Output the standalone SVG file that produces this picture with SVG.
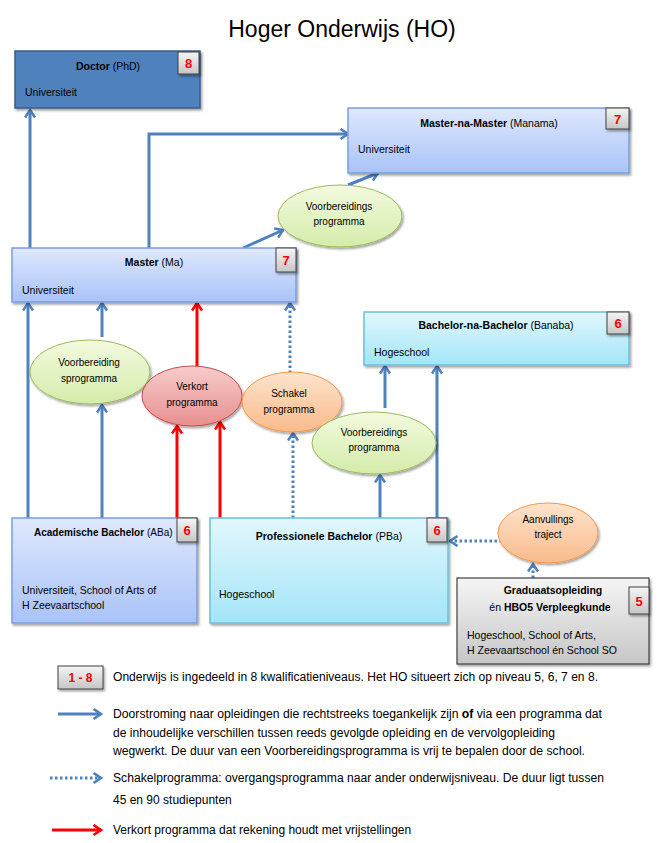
<svg xmlns="http://www.w3.org/2000/svg" width="670" height="843" viewBox="0 0 670 843">
<style>
text{font-family:"Liberation Sans",Arial,sans-serif;fill:#000}
.t{font-size:10.5px}
.b{font-weight:bold}
.e{font-size:10px;text-anchor:middle}
.c{text-anchor:middle}
.lg{font-size:12px}
.badge text{fill:#ff0000;font-weight:bold;font-size:13px;text-anchor:middle}
.blue{stroke:#4f81bd;stroke-width:3;fill:none;marker-end:url(#ab)}
.red{stroke:#ff0000;stroke-width:3;fill:none;marker-end:url(#ar)}
.dot{stroke:#4f81bd;stroke-width:3;fill:none;stroke-dasharray:2.5 2.5;marker-end:url(#ab)}
</style>
<defs>
<filter id="sh" x="-10%" y="-10%" width="130%" height="140%"><feDropShadow dx="1.5" dy="2" stdDeviation="1.2" flood-color="#000" flood-opacity="0.35"/></filter>
<linearGradient id="gBlue" x1="0" y1="0" x2="0" y2="1"><stop offset="0" stop-color="#dfe8fd"/><stop offset="1" stop-color="#a9c3f8"/></linearGradient>
<linearGradient id="gCyan" x1="0" y1="0" x2="0" y2="1"><stop offset="0" stop-color="#e2f7fd"/><stop offset="1" stop-color="#a3e5f8"/></linearGradient>
<linearGradient id="gGrey" x1="0" y1="0" x2="0" y2="1"><stop offset="0" stop-color="#f5f5f5"/><stop offset="1" stop-color="#c6c6c6"/></linearGradient>
<linearGradient id="gGreen" x1="0" y1="0" x2="0" y2="1"><stop offset="0" stop-color="#f3fadf"/><stop offset="1" stop-color="#d4ecaa"/></linearGradient>
<linearGradient id="gRed" x1="0" y1="0" x2="0" y2="1"><stop offset="0" stop-color="#f7cccc"/><stop offset="1" stop-color="#e88f8f"/></linearGradient>
<linearGradient id="gOrange" x1="0" y1="0" x2="0" y2="1"><stop offset="0" stop-color="#fde3cc"/><stop offset="1" stop-color="#f9bb8c"/></linearGradient>
<marker id="ab" markerUnits="userSpaceOnUse" markerWidth="14" markerHeight="14" refX="9" refY="6" orient="auto"><path d="M1.5,1 L9,6 L1.5,11" fill="none" stroke="#4f81bd" stroke-width="2.6"/></marker>
<marker id="ar" markerUnits="userSpaceOnUse" markerWidth="14" markerHeight="14" refX="9" refY="6" orient="auto"><path d="M1.5,1 L9,6 L1.5,11" fill="none" stroke="#ff0000" stroke-width="2.6"/></marker>
</defs>
<rect width="670" height="843" fill="#fff"/>
<text x="342" y="37" class="c" style="font-size:23px">Hoger Onderwijs (HO)</text>

<g id="connectors">
<path class="blue" d="M30,248 V110"/>
<path class="blue" d="M149,248 V134 H348"/>
<path class="blue" d="M243,248 L283,230"/>
<path class="blue" d="M348,185 L378,173"/>
<path class="blue" d="M28,518 V303"/>
<path class="blue" d="M102,518 V405"/>
<path class="blue" d="M102,337 V303"/>
<path class="red" d="M177,518 V426"/>
<path class="red" d="M220,518 V422"/>
<path class="red" d="M197,366 V303"/>
<path class="dot" d="M293,518 V433"/>
<path class="dot" d="M290,373 V303"/>
<path class="blue" d="M380,518 V475"/>
<path class="blue" d="M385,408 V366"/>
<path class="blue" d="M437,518 V366"/>
<path class="dot" d="M502,541 H450"/>
<path class="dot" d="M533,578 V564"/>
</g>

<g id="doctor">
<rect x="15" y="51" width="185" height="57" fill="#4f81bd" stroke="#385d8a" stroke-width="1.5" filter="url(#sh)"/>
<text x="108" y="70" class="t c"><tspan class="b">Doctor</tspan> (PhD)</text>
<text x="25" y="96" class="t">Universiteit</text>
<g class="badge"><rect x="178" y="52" width="21" height="22" fill="url(#gGrey)" stroke="#404040" filter="url(#sh)"/><text x="188.5" y="68">8</text></g>
</g>

<g id="manama">
<rect x="348" y="108" width="281" height="65" fill="url(#gBlue)" stroke="#7b9fdb" stroke-width="1.5" filter="url(#sh)"/>
<text x="489" y="127" class="t c"><tspan class="b">Master-na-Master</tspan> (Manama)</text>
<text x="358" y="153" class="t">Universiteit</text>
<g class="badge"><rect x="606" y="108" width="23" height="21" fill="url(#gGrey)" stroke="#404040" filter="url(#sh)"/><text x="617.5" y="124">7</text></g>
</g>

<g id="master">
<rect x="12" y="248" width="284" height="54" fill="url(#gBlue)" stroke="#7b9fdb" stroke-width="1.5" filter="url(#sh)"/>
<text x="154" y="266" class="t c"><tspan class="b">Master</tspan> (Ma)</text>
<text x="22" y="294" class="t">Universiteit</text>
<g class="badge"><rect x="276" y="248" width="20" height="24" fill="url(#gGrey)" stroke="#404040" filter="url(#sh)"/><text x="286" y="265">7</text></g>
</g>

<g id="voorb-ma">
<ellipse cx="340" cy="216" rx="62" ry="31" fill="url(#gGreen)" stroke="#9bbb59" filter="url(#sh)"/>
<text x="339" y="210" class="e">Voorbereidings</text>
<text x="339" y="225" class="e">programma</text>
</g>

<g id="voorb-aba">
<ellipse cx="90" cy="372" rx="60" ry="32" fill="url(#gGreen)" stroke="#9bbb59" filter="url(#sh)"/>
<text x="89" y="366" class="e">Voorbereiding</text>
<text x="89" y="382" class="e">sprogramma</text>
</g>

<g id="verkort">
<ellipse cx="192" cy="396" rx="50" ry="30" fill="url(#gRed)" stroke="#c0504d" filter="url(#sh)"/>
<text x="192" y="390" class="e">Verkort</text>
<text x="192" y="406" class="e">programma</text>
</g>

<g id="schakel">
<ellipse cx="292" cy="402" rx="50" ry="30" fill="url(#gOrange)" stroke="#f79646" filter="url(#sh)"/>
<text x="289" y="397" class="e">Schakel</text>
<text x="289" y="413" class="e">programma</text>
</g>

<g id="banaba">
<rect x="364" y="312" width="265" height="53" fill="url(#gCyan)" stroke="#6cc0d8" stroke-width="1.5" filter="url(#sh)"/>
<text x="496" y="329" class="t c"><tspan class="b">Bachelor-na-Bachelor</tspan> (Banaba)</text>
<text x="374" y="356" class="t">Hogeschool</text>
<g class="badge"><rect x="607" y="312" width="22" height="22" fill="url(#gGrey)" stroke="#404040" filter="url(#sh)"/><text x="618" y="328">6</text></g>
</g>

<g id="voorb-pba">
<ellipse cx="374" cy="443" rx="62" ry="31" fill="url(#gGreen)" stroke="#9bbb59" filter="url(#sh)"/>
<text x="374" y="436" class="e">Voorbereidings</text>
<text x="374" y="451" class="e">programma</text>
</g>

<g id="aba">
<rect x="12" y="518" width="185" height="105" fill="url(#gBlue)" stroke="#7b9fdb" stroke-width="1.5" filter="url(#sh)"/>
<text x="34" y="536" class="b" style="font-size:10px">Academische Bachelor</text>
<text x="147" y="536" style="font-size:10px">(ABa)</text>
<text x="22" y="594" class="t">Universiteit, School of Arts of</text>
<text x="22" y="609" class="t">H Zeevaartschool</text>
<g class="badge"><rect x="177" y="518" width="20" height="24" fill="url(#gGrey)" stroke="#404040" filter="url(#sh)"/><text x="187" y="535">6</text></g>
</g>

<g id="pba">
<rect x="210" y="518" width="238" height="105" fill="url(#gCyan)" stroke="#6cc0d8" stroke-width="1.5" filter="url(#sh)"/>
<text x="329" y="540" class="t c"><tspan class="b">Professionele Bachelor</tspan> (PBa)</text>
<text x="219" y="598" class="t">Hogeschool</text>
<g class="badge"><rect x="427" y="518" width="20" height="24" fill="url(#gGrey)" stroke="#404040" filter="url(#sh)"/><text x="437" y="535">6</text></g>
</g>

<g id="aanvullings">
<ellipse cx="548" cy="533" rx="50" ry="30" fill="url(#gOrange)" stroke="#f79646" filter="url(#sh)"/>
<text x="548" y="523" class="e">Aanvullings</text>
<text x="548" y="538" class="e">traject</text>
</g>

<g id="graduaat">
<rect x="457" y="578" width="192" height="86" fill="url(#gGrey)" stroke="#404040" stroke-width="1.2" filter="url(#sh)"/>
<text x="553" y="594" class="t c b">Graduaatsopleiding</text>
<text x="550" y="611" class="t c">én <tspan class="b">HBO5 Verpleegkunde</tspan></text>
<text x="467" y="639" class="t">Hogeschool, School of Arts,</text>
<text x="467" y="654" class="t">H Zeevaartschool én School SO</text>
<g class="badge"><rect x="629" y="587" width="20" height="27" fill="url(#gGrey)" stroke="#404040" filter="url(#sh)"/><text x="639" y="606">5</text></g>
</g>

<g id="legend">
<g class="badge"><rect x="58" y="666" width="45" height="23" fill="url(#gGrey)" stroke="#404040" filter="url(#sh)"/><text x="80.5" y="682" style="font-size:12px">1 - 8</text></g>
<text x="113" y="681" class="lg" textLength="485" lengthAdjust="spacingAndGlyphs">Onderwijs is ingedeeld in 8 kwalificatieniveaus. Het HO situeert zich op niveau  5, 6, 7 en 8.</text>
<path class="blue" d="M58,714 H101"/>
<text x="113" y="718" class="lg" textLength="489" lengthAdjust="spacingAndGlyphs">Doorstroming naar opleidingen die rechtstreeks toegankelijk zijn <tspan class="b">of</tspan> via een programma dat</text>
<text x="113" y="737" class="lg" textLength="442" lengthAdjust="spacingAndGlyphs">de inhoudelijke verschillen tussen reeds gevolgde opleiding en de vervolgopleiding</text>
<text x="113" y="755" class="lg" textLength="472" lengthAdjust="spacingAndGlyphs">wegwerkt. De duur van een Voorbereidingsprogramma is vrij te bepalen door de school.</text>
<path class="dot" d="M50,778 H101"/>
<text x="113" y="782" class="lg" textLength="491" lengthAdjust="spacingAndGlyphs">Schakelprogramma: overgangsprogramma naar ander onderwijsniveau. De duur ligt tussen</text>
<text x="113" y="804" class="lg">45 en 90 studiepunten</text>
<path class="red" d="M52,830 H101"/>
<text x="113" y="834" class="lg">Verkort programma dat rekening houdt met vrijstellingen</text>
</g>
</svg>
